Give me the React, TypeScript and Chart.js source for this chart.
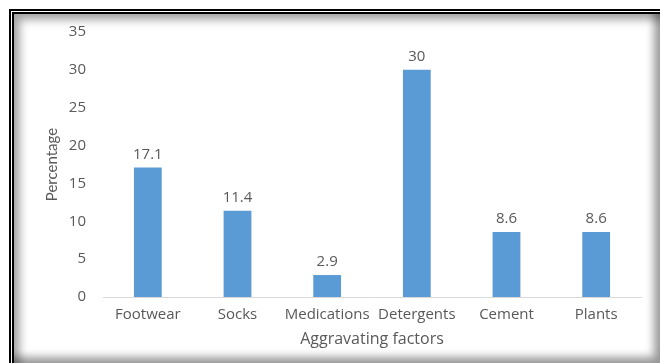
import React, { useEffect, useRef } from "react";
import { Chart, registerables } from "chart.js";

Chart.register(...registerables);

const categories = ["Footwear", "Socks", "Medications", "Detergents", "Cement", "Plants"];
const percentages = [17.1, 11.4, 2.9, 30, 8.6, 8.6];
const yMax = 35;
const yStep = 5;

const WIDE_FONT = "'Open Sans', Lato, sans-serif";
const NARROW_FONT = "Lato, 'Open Sans', sans-serif";
const TEXT_GRAY = "#595959";
const BAR_BLUE = "#5b9bd5";

// Writes each bar's value just above its top edge.
const valueLabels = {
  id: "valueLabels",
  afterDatasetsDraw(chart: any) {
    const { ctx } = chart;
    const meta = chart.getDatasetMeta(0);
    const values = chart.data.datasets[0].data as number[];
    ctx.save();
    ctx.font = `15px ${WIDE_FONT}`;
    ctx.fillStyle = TEXT_GRAY;
    ctx.textAlign = "center";
    ctx.textBaseline = "alphabetic";
    meta.data.forEach((bar: any, i: number) => {
      ctx.fillText(String(values[i]), bar.x, bar.y - 9);
    });
    ctx.restore();
  },
};

export default function App() {
  const canvasRef = useRef<HTMLCanvasElement | null>(null);

  useEffect(() => {
    document.body.style.margin = "0";
    const canvas = canvasRef.current;
    if (!canvas) return;
    const chart = new Chart(canvas, {
      type: "bar",
      data: {
        labels: categories,
        datasets: [
          {
            data: percentages,
            backgroundColor: BAR_BLUE,
            borderWidth: 0,
            barPercentage: 0.31,
            categoryPercentage: 1,
          },
        ],
      },
      options: {
        responsive: false,
        animation: false,
        events: [],
        layout: { padding: { left: 30, right: 19, top: 32, bottom: 14 } },
        plugins: {
          legend: { display: false },
          tooltip: { enabled: false },
        },
        scales: {
          x: {
            grid: { display: false, drawTicks: false },
            border: { display: true, color: "#d9d9d9", width: 1 },
            ticks: {
              color: TEXT_GRAY,
              font: { family: WIDE_FONT, size: 15 },
              padding: 9,
              maxRotation: 0,
            },
            title: {
              display: true,
              text: "Aggravating factors",
              color: TEXT_GRAY,
              font: { family: WIDE_FONT, size: 16 },
              padding: { top: 0, bottom: 0 },
            },
            afterFit(scale: any) {
              scale.height = 52;
            },
          },
          y: {
            min: 0,
            max: yMax,
            grid: { display: false, drawTicks: false },
            border: { display: false },
            ticks: {
              stepSize: yStep,
              color: TEXT_GRAY,
              font: { family: WIDE_FONT, size: 15 },
              padding: 17,
            },
            title: {
              display: true,
              text: "Percentage",
              color: TEXT_GRAY,
              font: { family: NARROW_FONT, size: 15 },
              padding: { top: 13, bottom: 0 },
            },
            afterFit(scale: any) {
              scale.width = 73;
            },
          },
        },
      },
      plugins: [valueLabels],
    });
    return () => chart.destroy();
  }, []);

  return (
    <div style={{ position: "relative", width: 660, height: 363, background: "#fff", overflow: "hidden" }}>
      <canvas ref={canvasRef} width={660} height={363} style={{ position: "absolute", left: 0, top: 0 }} />
      <div
        style={{
          position: "absolute",
          left: 9,
          top: 9,
          right: 0,
          bottom: 0,
          borderTop: "5px double #000",
          borderLeft: "5px double #000",
          boxShadow: "inset 6px 6px 8px rgba(0,0,0,0.35), inset -6px -6px 8px rgba(0,0,0,0.4)",
          pointerEvents: "none",
        }}
      />
    </div>
  );
}
